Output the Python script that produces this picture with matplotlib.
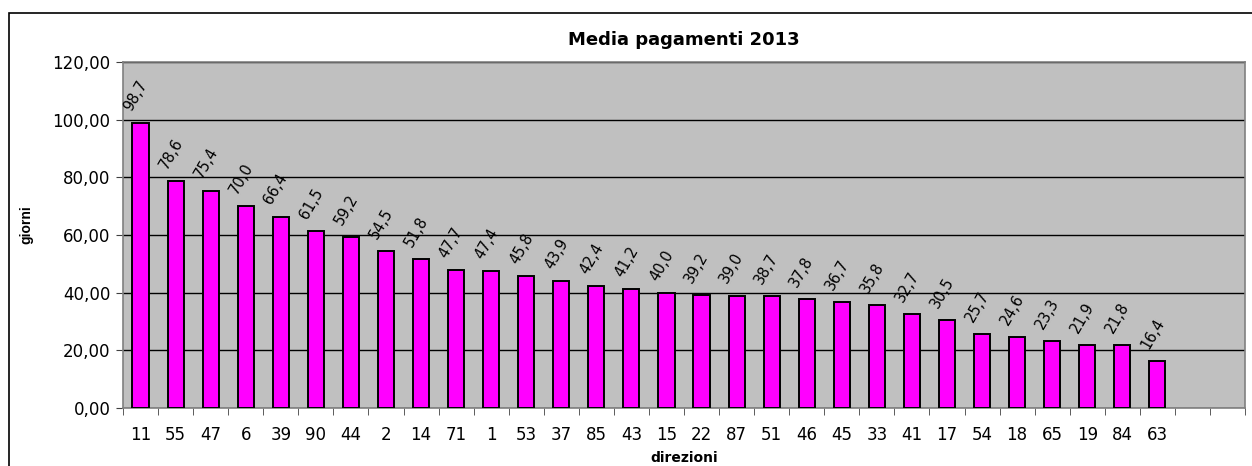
import numpy as np
import matplotlib.pyplot as plt
from matplotlib.patches import Rectangle

plt.rcParams['font.family'] = ['DejaVu Sans']

direzioni = ['11', '55', '47', '6', '39', '90', '44', '2', '14', '71', '1', '53', '37', '85', '43',
             '15', '22', '87', '51', '46', '45', '33', '41', '17', '54', '18', '65', '19', '84', '63']
giorni = [98.7, 78.6, 75.4, 70.0, 66.4, 61.5, 59.2, 54.5, 51.8, 47.7, 47.4, 45.8, 43.9, 42.4, 41.2,
          40.0, 39.2, 39.0, 38.7, 37.8, 36.7, 35.8, 32.7, 30.5, 25.7, 24.6, 23.3, 21.9, 21.8, 16.4]
n_slots = 32  # due categorie vuote in fondo

fig = plt.figure(figsize=(12.52, 4.66), dpi=100)
ax = fig.add_axes([123/1252, 1 - 408/466, 1122/1252, 346/466])

# cornice esterna del grafico
fig.patches.append(Rectangle((9/1252, -0.02), 1.0, 1 - 13/466 + 0.02, transform=fig.transFigure,
                             fill=False, edgecolor='black', linewidth=1.2))

x = np.arange(len(giorni))
ax.set_facecolor('#c0c0c0')
ax.bar(x, giorni, width=0.46, color='#ff00ff', edgecolor='black', linewidth=1.4, zorder=3)

# etichette dei valori, ruotate
for xi, v in zip(x, giorni):
    ax.annotate(f'{v:.1f}'.replace('.', ','), (xi, v), xytext=(-6.5, 8), textcoords='offset points',
                rotation=60, rotation_mode='anchor', ha='left', va='baseline', fontsize=10.5, zorder=4)

ax.set_xlim(-0.5, n_slots - 0.5)
ax.set_ylim(0, 120)
yt = np.arange(0, 121, 20)
ax.set_yticks(yt)
ax.set_yticklabels([f'{t:.2f}'.replace('.', ',') for t in yt], fontsize=12)
ax.yaxis.grid(True, color='black', linewidth=1, zorder=1)
ax.set_axisbelow(True)

ax.set_xticks(x)
ax.set_xticklabels(direzioni, fontsize=12)
ax.tick_params(axis='x', length=0, pad=13)
ax.set_xticks(np.arange(-0.5, n_slots, 1), minor=True)
ax.tick_params(axis='x', which='minor', length=5, color='#404040')
ax.tick_params(axis='y', length=5, color='#404040', pad=4)

for s in ax.spines.values():
    s.set_color('#808080')
    s.set_linewidth(1.2)

ax.set_title('Media pagamenti 2013', fontsize=13, fontweight='bold', pad=12)
ax.set_ylabel('giorni', fontsize=10, fontweight='bold', family='Liberation Sans')
ax.yaxis.set_label_coords(-0.080, 0.53)
ax.set_xlabel('direzioni', fontsize=10, fontweight='bold', labelpad=5)

fig.savefig('out.png', dpi=100)
